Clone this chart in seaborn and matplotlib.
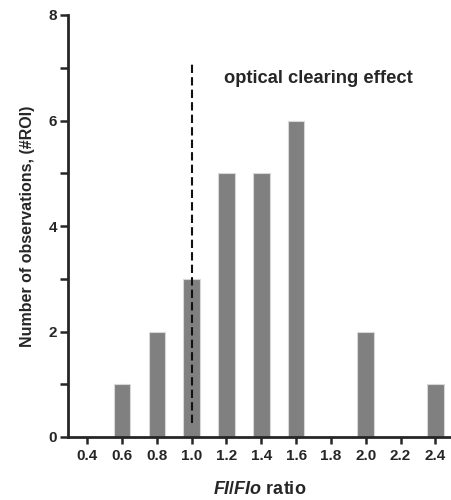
import pandas as pd
import seaborn as sns
import matplotlib.pyplot as plt
from matplotlib.ticker import MultipleLocator

# Histogram values
ratio_bins = [0.6, 0.8, 1.0, 1.2, 1.4, 1.6, 2.0, 2.4]
counts = [1, 2, 3, 5, 5, 6, 2, 1]
xtick_values = [0.4, 0.6, 0.8, 1.0, 1.2, 1.4, 1.6, 1.8, 2.0, 2.2, 2.4]

df = pd.DataFrame({"ratio": ratio_bins, "count": counts})

sns.set_style("ticks")
plt.rcParams['font.family'] = ['Liberation Sans', 'DejaVu Sans']
plt.rcParams['font.weight'] = 'bold'
plt.rcParams['mathtext.fontset'] = 'custom'
plt.rcParams['mathtext.it'] = 'Liberation Sans:italic:bold'
plt.rcParams['mathtext.rm'] = 'Liberation Sans:bold'

fig = plt.figure(figsize=(4.51, 5.0), dpi=100)
ax = fig.add_axes([0.151, 0.126, 0.849, 0.844])

sns.barplot(data=df, x="ratio", y="count", native_scale=True, width=0.48,
            color="#808080", saturation=1, edgecolor="#d8d8d8", linewidth=0.8,
            ax=ax, zorder=2)

# threshold line at ratio 1.0
ax.plot([1.0, 1.0], [0.27, 7.1], color="#111111", linestyle=(0, (4, 2)),
        linewidth=1.5, zorder=3)
ax.text(1.73, 6.8, "optical clearing effect", ha="center", va="center",
        fontsize=13.2, fontweight="bold")

ax.set_xlim(0.29, 2.49)
ax.set_ylim(0, 8)
ax.set_xticks(xtick_values)
ax.set_xticklabels([f"{v:.1f}" for v in xtick_values], fontsize=11, fontweight="bold")
ax.yaxis.set_major_locator(MultipleLocator(2))
ax.yaxis.set_minor_locator(MultipleLocator(1))
ax.tick_params(axis='y', which='major', labelsize=11, width=1.8, length=6, pad=2)
ax.tick_params(axis='y', which='minor', width=1.8, length=6)
ax.tick_params(axis='x', width=1.8, length=5)
for lbl in ax.get_yticklabels():
    lbl.set_fontweight("bold")

ax.set_xlabel("$\\it{FI/FIo}$ ratio", fontsize=13, fontweight="bold", labelpad=13)
ax.set_ylabel("Number of observations, (#ROI)", fontsize=11.5, fontweight="bold", labelpad=10)

sns.despine(ax=ax)
ax.spines['left'].set_linewidth(2)
ax.spines['bottom'].set_linewidth(2)

fig.savefig("out.png", dpi=100)
